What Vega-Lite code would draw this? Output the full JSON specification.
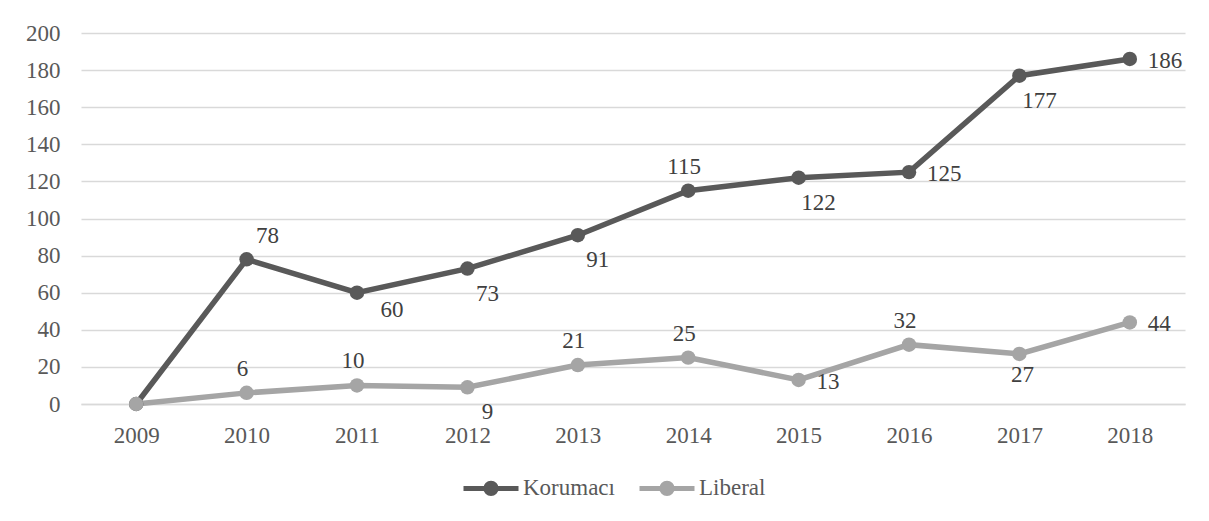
{
  "$schema": "https://vega.github.io/schema/vega-lite/v6.json",
  "width": 1104,
  "height": 371,
  "autosize": {"type": "none"},
  "padding": {"left": 81, "top": 33, "right": 24, "bottom": 117},
  "background": "white",
  "data": {
    "values": [
      {"year": "2009", "series": "Korumacı", "value": 0},
      {"year": "2010", "series": "Korumacı", "value": 78},
      {"year": "2011", "series": "Korumacı", "value": 60},
      {"year": "2012", "series": "Korumacı", "value": 73},
      {"year": "2013", "series": "Korumacı", "value": 91},
      {"year": "2014", "series": "Korumacı", "value": 115},
      {"year": "2015", "series": "Korumacı", "value": 122},
      {"year": "2016", "series": "Korumacı", "value": 125},
      {"year": "2017", "series": "Korumacı", "value": 177},
      {"year": "2018", "series": "Korumacı", "value": 186},
      {"year": "2009", "series": "Liberal", "value": 0},
      {"year": "2010", "series": "Liberal", "value": 6},
      {"year": "2011", "series": "Liberal", "value": 10},
      {"year": "2012", "series": "Liberal", "value": 9},
      {"year": "2013", "series": "Liberal", "value": 21},
      {"year": "2014", "series": "Liberal", "value": 25},
      {"year": "2015", "series": "Liberal", "value": 13},
      {"year": "2016", "series": "Liberal", "value": 32},
      {"year": "2017", "series": "Liberal", "value": 27},
      {"year": "2018", "series": "Liberal", "value": 44}
    ]
  },
  "encoding": {
    "x": {
      "field": "year", "type": "ordinal",
      "scale": {"type": "point", "padding": 0.5},
      "axis": {"title": null, "labelAngle": 0, "ticks": false, "domain": true, "domainColor": "#d9d9d9", "domainWidth": 1.5, "labelPadding": 20, "grid": false}
    },
    "y": {
      "field": "value", "type": "quantitative",
      "scale": {"domain": [0, 200], "nice": false},
      "axis": {"title": null, "values": [0,20,40,60,80,100,120,140,160,180,200], "ticks": false, "domain": false, "labelPadding": 21, "grid": true, "gridColor": "#d9d9d9", "gridWidth": 1.5}
    },
    "color": {
      "field": "series", "type": "nominal",
      "scale": {"domain": ["Korumacı", "Liberal"], "range": ["#595959", "#a5a5a5"]},
      "legend": {
        "title": null, "orient": "none", "direction": "horizontal",
        "legendX": 380, "legendY": 425,
        "symbolType": "M -1 0 L 1 0 M 0.19 0 A 0.19 0.19 0 1 1 -0.19 0 A 0.19 0.19 0 1 1 0.19 0 Z",
        "symbolSize": 3025, "symbolStrokeWidth": 5,
        "labelFontSize": 23, "labelFont": "Liberation Serif", "labelColor": "#595959",
        "labelOffset": 2, "columnPadding": 14
      }
    }
  },
  "layer": [
    {"mark": {"type": "line", "strokeWidth": 5.5}},
    {"mark": {"type": "point", "filled": true, "size": 210, "opacity": 1, "shape": "circle"}},
    {
      "transform": [{"filter": "(datum.series === 'Korumacı' && datum.year === '2014') || (datum.series === 'Liberal' && indexof(['2010','2011','2013','2014','2016'], datum.year) >= 0)"}],
      "mark": {"type": "text", "dx": -4, "dy": -24, "align": "center", "baseline": "middle"},
      "encoding": {"text": {"field": "value"}, "color": {"value": "#404040"}}
    },
    {
      "transform": [{"filter": "datum.series === 'Korumacı' && datum.year === '2010'"}],
      "mark": {"type": "text", "dx": 21, "dy": -23, "align": "center", "baseline": "middle"},
      "encoding": {"text": {"field": "value"}, "color": {"value": "#404040"}}
    },
    {
      "transform": [{"filter": "(datum.series === 'Korumacı' && indexof(['2016','2018'], datum.year) >= 0) || (datum.series === 'Liberal' && indexof(['2015','2018'], datum.year) >= 0)"}],
      "mark": {"type": "text", "dx": 18, "dy": 2, "align": "left", "baseline": "middle"},
      "encoding": {"text": {"field": "value"}, "color": {"value": "#404040"}}
    },
    {
      "transform": [{"filter": "(datum.series === 'Korumacı' && indexof(['2012','2013','2015','2017'], datum.year) >= 0) || (datum.series === 'Liberal' && datum.year === '2012')"}],
      "mark": {"type": "text", "dx": 20, "dy": 25, "align": "center", "baseline": "middle"},
      "encoding": {"text": {"field": "value"}, "color": {"value": "#404040"}}
    },
    {
      "transform": [{"filter": "datum.series === 'Korumacı' && datum.year === '2011'"}],
      "mark": {"type": "text", "dx": 35, "dy": 17, "align": "center", "baseline": "middle"},
      "encoding": {"text": {"field": "value"}, "color": {"value": "#404040"}}
    },
    {
      "transform": [{"filter": "datum.series === 'Liberal' && datum.year === '2017'"}],
      "mark": {"type": "text", "dx": 3, "dy": 21, "align": "center", "baseline": "middle"},
      "encoding": {"text": {"field": "value"}, "color": {"value": "#404040"}}
    }
  ],
  "config": {
    "view": {"stroke": null},
    "font": "Liberation Serif",
    "axis": {"labelFont": "Liberation Serif", "labelFontSize": 23, "labelColor": "#595959"},
    "text": {"font": "Liberation Serif", "fontSize": 23}
  }
}
